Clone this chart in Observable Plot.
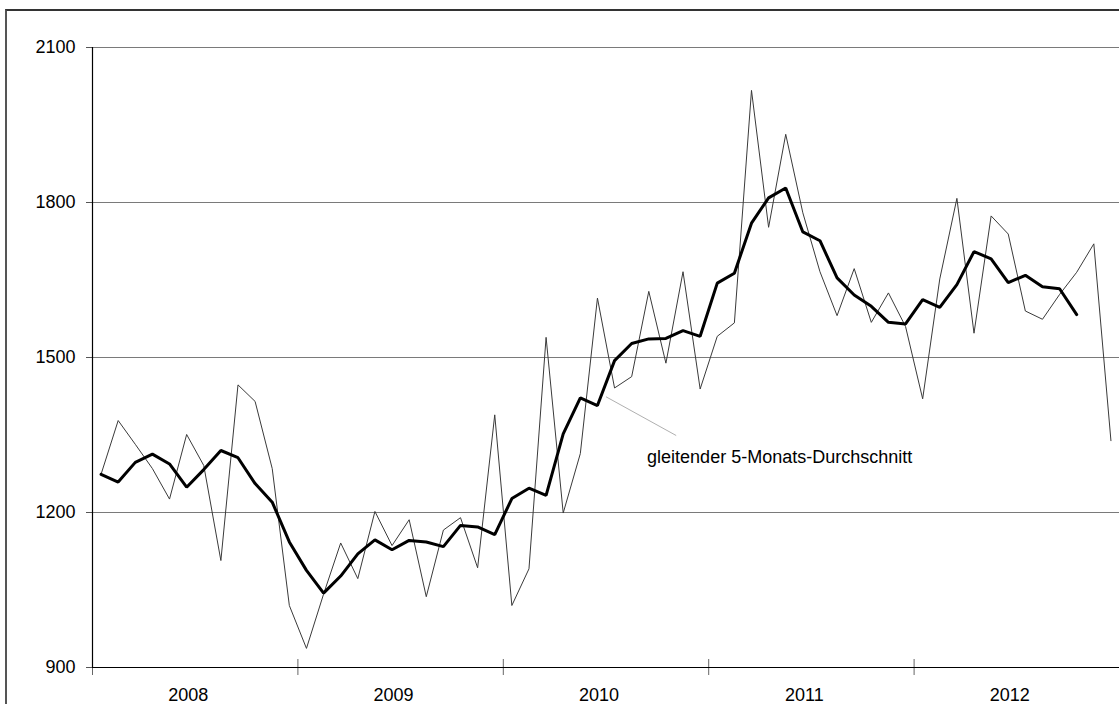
<!DOCTYPE html>
<html>
<head>
<meta charset="utf-8">
<script src="https://cdn.jsdelivr.net/npm/d3@7"></script>
<script src="https://cdn.jsdelivr.net/npm/@observablehq/plot@0.6"></script>
<style>
  html, body { margin: 0; padding: 0; background: #fff; overflow: hidden; }
  #wrap { position: relative; width: 1119px; height: 704px; }
  #border { position: absolute; left: 5px; top: 9px; width: 2000px; height: 2000px;
            border-left: 2px solid #555; border-top: 2px solid #333; box-sizing: border-box; }
  #chart { position: absolute; left: 0; top: 0; }
</style>
</head>
<body>
<div id="wrap"><div id="border"></div><div id="chart"></div></div>
<script>
// ---- data ----
const years = ["2008", "2009", "2010", "2011", "2012"];

// monthly values Jan 2008 .. Dec 2012
const monthly = [
  1274, 1378, 1332, 1285, 1226, 1351, 1291, 1107, 1447, 1415, 1285, 1020,
  937, 1042, 1141, 1072, 1202, 1136, 1186, 1037, 1166, 1190, 1093, 1389,
  1020, 1091, 1539, 1199, 1314, 1615, 1441, 1463, 1628, 1489, 1666, 1439,
  1541, 1567, 2017, 1752, 1932, 1780, 1666, 1581, 1672, 1568, 1625, 1560,
  1420, 1652, 1808, 1547, 1774, 1739, 1590, 1574, 1622, 1665, 1720, 1339
];

// gleitender 5-Monats-Durchschnitt, Jan 2008 .. Oct 2012
const average = [
  1274, 1259, 1297, 1313, 1294, 1249, 1283, 1320, 1306, 1256, 1220, 1143,
  1088, 1044, 1077, 1120, 1147, 1128, 1146, 1143, 1134, 1175, 1172, 1157,
  1227, 1247, 1233, 1352, 1422, 1407, 1494, 1527, 1536, 1537, 1552, 1541,
  1644, 1663, 1760, 1809, 1828, 1743, 1726, 1654, 1621, 1599, 1568, 1565,
  1612, 1597, 1641, 1705, 1691, 1645, 1659, 1637, 1633, 1583
];

const yTicks = [900, 1200, 1500, 1800, 2100];
const gridValues = [1200, 1500, 1800, 2100];

const annotationText = "gleitender 5-Monats-Durchschnitt";
const annotationAt = {x: 31.9, y: 1306};          // month index, value
const leader = {x1: 29.5, y1: 1424, x2: 33.6, y2: 1349};

// ---- tables built from the arrays ----
const monthlyData = monthly.map((v, i) => ({i, v}));
const averageData = average.map((v, i) => ({i, v}));
const yearCenters = years.map((y, k) => k * 12 + 5.5);
const yearBounds = years.map((y, k) => ({b: k * 12 - 0.5}));

const chart = Plot.plot({
  width: 1119,
  height: 704,
  marginLeft: 92,
  marginRight: 0,
  marginTop: 47,
  marginBottom: 37,
  style: {
    fontFamily: "Arial, 'Liberation Sans', sans-serif",
    fontSize: "18px",
    background: "transparent",
    color: "black",
    overflow: "visible"
  },
  x: {domain: [-0.5, 59.5], axis: null},
  y: {domain: [900, 2100], axis: null},
  marks: [
    Plot.ruleY(gridValues, {stroke: "#7a7a7a", strokeWidth: 1}),
    Plot.axisY({ticks: yTicks, tickFormat: d => String(d), tickSize: 6, tickPadding: 11, stroke: "#555", fill: "black", fontSize: 18}),
    Plot.axisX({
      ticks: yearCenters,
      tickFormat: c => years[Math.round((c - 5.5) / 12)],
      tickSize: 0, tickPadding: 21, dx: -7, fill: "black", fontSize: 18
    }),
    Plot.ruleX(yearBounds, {x: "b", y1: () => 900, y2: () => 900, insetTop: -8, insetBottom: -8, stroke: "#666"}),
    Plot.line(monthlyData, {x: "i", y: "v", stroke: "#3a3a3a", strokeWidth: 1}),
    Plot.line(averageData, {x: "i", y: "v", stroke: "black", strokeWidth: 3, strokeLinejoin: "miter"}),
    Plot.ruleY([900], {stroke: "black", strokeWidth: 1.2}),
    Plot.ruleX([-0.5], {stroke: "black", strokeWidth: 1.2}),
    Plot.link([leader], {x1: "x1", y1: "y1", x2: "x2", y2: "y2", stroke: "#b0b0b0", strokeWidth: 1}),
    Plot.text([annotationAt], {x: "x", y: "y", text: () => annotationText, textAnchor: "start", fill: "black", fontSize: 18})
  ]
});
document.getElementById("chart").appendChild(chart);
</script>
</body>
</html>
